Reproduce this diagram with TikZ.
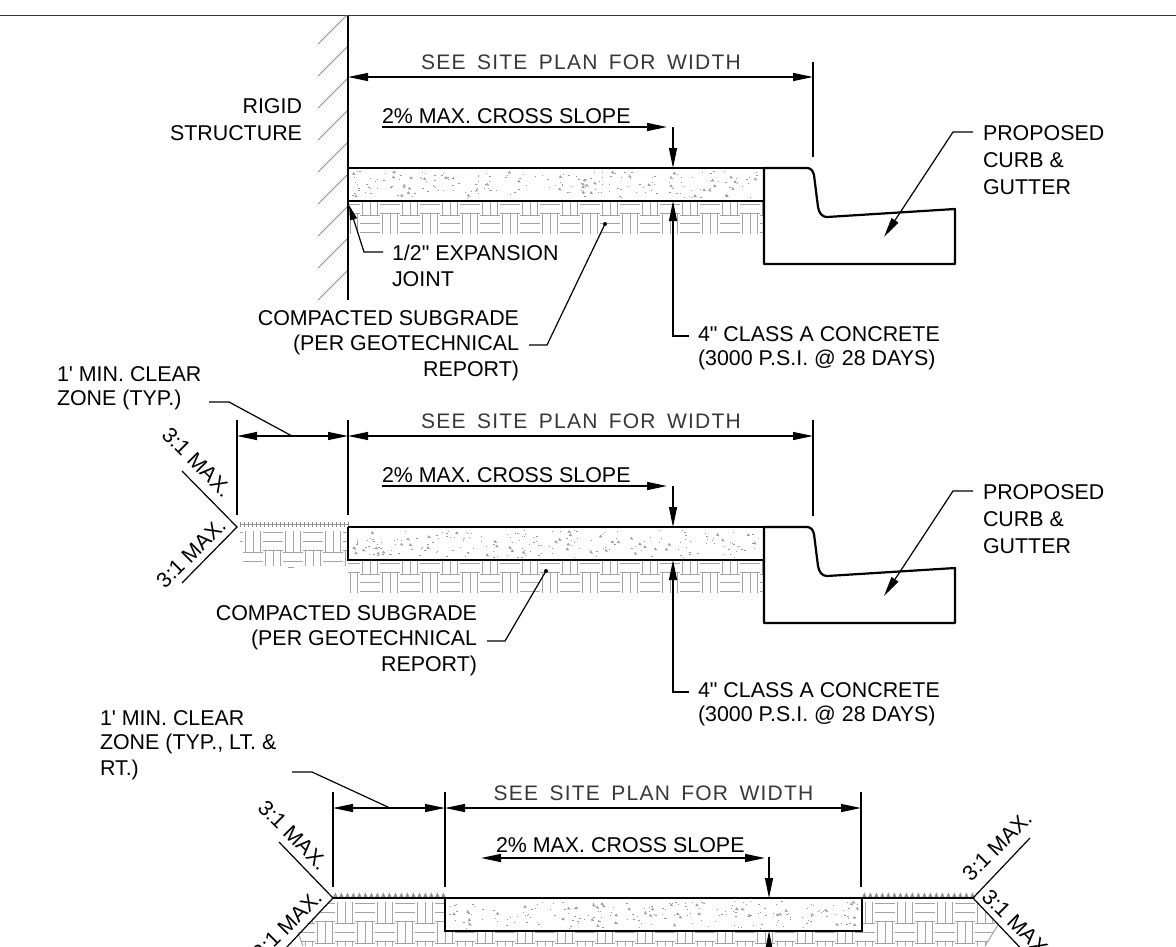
\documentclass[tikz,border=0pt]{standalone}
\usepackage{fontspec}
\setmainfont[Ligatures=TeXOff]{Liberation Sans}
\newfontfamily\cadfont[LetterSpace=6,WordSpace=1.6,Ligatures=TeXOff]{Liberation Sans}
\usetikzlibrary{arrows.meta}
\tikzset{
  x=1pt,y=-1pt,
  lbl/.style={inner sep=0pt,outer sep=0pt,font=\fontsize{21.4}{25}\selectfont,text=black},
  lblL/.style={lbl,anchor=west},
  lblR/.style={lbl,anchor=east},
  cad/.style={inner sep=0pt,font=\cadfont\fontsize{21}{25}\selectfont,text=black!78},
  slope/.style={lbl},
  thin line/.style={line width=1.2pt,black},
  heavy/.style={line width=2.8pt,black},
  medium/.style={line width=2.2pt,black},
  tip/.style={-{Triangle[length=20pt,width=8pt]}},
  rtip/.style={{Triangle[length=20pt,width=8pt]}-},
  bothtip/.style={{Triangle[length=20pt,width=8pt]}-{Triangle[length=20pt,width=8pt]}},
  dimline/.style={line width=1.2pt,black,bothtip},
  hatchline/.style={line width=1pt,black!36},
  wallhatch/.style={line width=0.7pt,black!50},
}
% basket-weave hatch: rows from y top, clipped by the caller
\newcommand{\weave}[6]{% xstart, columns, ytop, rows, phase, row height
  \foreach \r in {0,...,\numexpr#4-1\relax}{
    \pgfmathsetmacro{\yt}{#3+#6*\r}
    \pgfmathsetmacro{\ym}{\yt+0.47*#6}
    \pgfmathsetmacro{\yb}{\yt+0.93*#6}
    \pgfmathsetmacro{\ph}{#5+20*mod(\r,2)}
    \foreach \c in {-2,...,#2}{
      \pgfmathsetmacro{\xb}{#1+\ph+40*\c}
      \draw[hatchline] (\xb,\yt)--(\xb+20,\yt) (\xb,\ym)--(\xb+20,\ym) (\xb,\yb)--(\xb+20,\yb);
      \draw[hatchline] (\xb+22,\yt-1) --(\xb+22,\yb+1) (\xb+30,\yt-1)--(\xb+30,\yb+1) (\xb+37,\yt-1)--(\xb+37,\yb+1);
    }
  }
}
% concrete speckle
\newcommand{\speckle}[5]{% x0,x1,y0,y1,seed
  \pgfmathsetseed{#5}
  \pgfmathsetmacro{\nn}{int((#2-#1)*0.42)}
  \foreach \i in {1,...,\nn}{
    \pgfmathsetmacro{\px}{#1+3+rnd*(#2-#1-6)}
    \pgfmathsetmacro{\py}{#3+2+rnd*(#4-#3-4)}
    \fill[black!40] (\px,\py) rectangle ++(1.3,1);
  }
  \pgfmathsetmacro{\nm}{int((#2-#1)*0.1)}
  \foreach \i in {1,...,\nm}{
    \pgfmathsetmacro{\px}{#1+3+rnd*(#2-#1-6)}
    \pgfmathsetmacro{\py}{#3+4+rnd*(#4-#3-7)}
    \fill[black!38] (\px,\py)--++(3.5,0.5)--++(-2,-3)--cycle;
  }
}
\newcommand{\ticks}[3]{% x0,x1,y
  \draw[line width=0.8pt,black!40] (#1,#3-3)--(#2,#3-3);
  \foreach \x in {#1,\the\numexpr#1+4\relax,...,#2}{
    \draw[line width=0.8pt,black!45] (\x,#3-5)--(\x,#3);
  }
}
\newcommand{\tufts}[3]{% x0,x1,y
  \foreach \x in {#1,\the\numexpr#1+6\relax,...,#2}{
    \fill[black!42] (\x,#3-0.5)--++(2.4,-5)--++(2.4,5)--cycle;
  }
}
\begin{document}
\begin{tikzpicture}
\useasboundingbox (0,0) rectangle (1176,946);
\fill[white] (0,0) rectangle (1176,946);
\draw[line width=1pt,black!80] (0,15.5)--(1176,15.5);

%================ SECTION 1
\begin{scope}
 \clip (348,201) rectangle (764,233);
 \weave{348}{11}{196}{2}{-8}{19}
\end{scope}
\speckle{349}{763}{169}{200}{11}
\foreach \yy in {15,47,79,111,143,175,207,239,271}{
  \draw[wallhatch] (347,\yy)--++(-29,29);
}
\coordinate (w1) at (348,16); \coordinate (w2) at (348,300);
\draw[line width=2.4pt] (w1)--(w2);
\coordinate (a1) at (348,168); \coordinate (a2) at (764,168);
\coordinate (a3) at (764,201); \coordinate (a4) at (348,201);
\draw[heavy] (a1)--(a2);
\draw[medium] (a4)--(a3);
\draw[medium,line join=round] (a2)--(807,168) .. controls (811,168) and (813,171) .. (814,175)
   --(818,207) .. controls (819,213) and (822,217) .. (827,217)
   --(955,209)--(955,264)--(764,264)--cycle;
\coordinate (e1) at (813,62); \coordinate (e2) at (813,157);
\draw[thin line] (e1)--(e2);
\coordinate (d1) at (348,77); \coordinate (d2) at (813,77);
\draw[dimline] (d1)--(d2);
\node[cad] (see1) at (581,62) {SEE SITE PLAN FOR WIDTH};
\coordinate (s1) at (382,127); \coordinate (s2) at (667,127);
\draw[line width=1.6pt,tip] (s1)--(s2);
\node[lblL] (cs1) at (382,116) {2\% MAX. CROSS SLOPE};
\coordinate (v1) at (673,127); \coordinate (v2) at (673,168);
\draw[thin line,tip] (v1)--(v2);
\coordinate (c1) at (673,201); \coordinate (c2) at (673,336); \coordinate (c4) at (689,336);
\draw[thin line,rtip] (c1)--(c2)--(c4);
\node[lblL] (cc1) at (698,334) {4" CLASS A CONCRETE};
\node[lblL] (cc2) at (698,360) {(3000 P.S.I. @ 28 DAYS)};
\coordinate (p1) at (973,132); \coordinate (p2) at (953,132); \coordinate (p3) at (884,237);
\draw[thin line,tip] (p1)--(p2)--(p3);
\node[lblL] (pc1) at (983,133) {PROPOSED};
\node[lblL] (pc2) at (983,160) {CURB \&};
\node[lblL] (pc3) at (983,187) {GUTTER};
\node[lblR] (rs1) at (302,106) {RIGID};
\node[lblR] (rs2) at (302,133) {STRUCTURE};
\coordinate (x1) at (349,205); \coordinate (x2) at (364,252); \coordinate (x3) at (383,252);
\draw[thin line,{Triangle[length=15pt,width=7pt]}-] (x1)--(x2)--(x3);
\node[lblL] (xj1) at (392,253) {1/2" EXPANSION};
\node[lblL] (xj2) at (392,279) {JOINT};
\fill (605,224) circle (2pt) coordinate (k1);
\coordinate (k2) at (547,345); \coordinate (k3) at (529,345);
\draw[thin line] (k1)--(k2)--(k3);
\node[lblR] (sb1) at (519,318) {COMPACTED SUBGRADE};
\node[lblR] (sb2) at (519,345) {(PER GEOTECHNICAL};
\node[lblR] (sb3) at (519,371) {REPORT)};

%================ SECTION 2
\begin{scope}
 \clip (348,560) rectangle (764,592);
 \weave{348}{11}{555}{2}{-8}{19}
\end{scope}
\begin{scope}
 \clip (240,530) rectangle (348,549) (243,549) rectangle (348,566);
 \weave{240}{4}{532}{2}{23}{20}
\end{scope}
\draw[hatchline] (288,567)--(294,567);
\speckle{349}{763}{528}{559}{23}
\ticks{240}{348}{527}
\coordinate (a1b) at (348,527); \coordinate (a2b) at (764,527);
\coordinate (a3b) at (764,560); \coordinate (a4b) at (348,560);
\draw[heavy] (a1b)--(a2b);
\draw[medium] (a1b)--(a4b)--(a3b);
\draw[medium,line join=round] (a2b)--(807,527) .. controls (811,527) and (813,530) .. (814,534)
   --(818,566) .. controls (819,572) and (822,576) .. (827,576)
   --(955,568)--(955,623)--(764,623)--cycle;
\coordinate (e1b) at (813,420); \coordinate (e2b) at (813,516);
\draw[thin line] (e1b)--(e2b);
\coordinate (e3b) at (348,420); \coordinate (e4b) at (348,515);
\draw[thin line] (e3b)--(e4b);
\coordinate (e5b) at (237,420); \coordinate (e6b) at (237,515);
\draw[thin line] (e5b)--(e6b);
\coordinate (d1b) at (348,436); \coordinate (d2b) at (813,436);
\draw[dimline] (d1b)--(d2b);
\coordinate (d3b) at (237,436);
\draw[dimline] (d3b)--(d1b);
\node[cad] (see2) at (581,421) {SEE SITE PLAN FOR WIDTH};
\coordinate (s1b) at (382,486); \coordinate (s2b) at (667,486);
\draw[line width=1.6pt,tip] (s1b)--(s2b);
\node[lblL] (cs2) at (382,475) {2\% MAX. CROSS SLOPE};
\coordinate (v1b) at (673,486); \coordinate (v2b) at (673,527);
\draw[thin line,tip] (v1b)--(v2b);
\coordinate (c1b) at (673,560); \coordinate (c2b) at (673,692); \coordinate (c4b) at (689,692);
\draw[thin line,rtip] (c1b)--(c2b)--(c4b);
\node[lblL] (cc1b) at (698,690) {4" CLASS A CONCRETE};
\node[lblL] (cc2b) at (698,716) {(3000 P.S.I. @ 28 DAYS)};
\coordinate (p1b) at (973,491); \coordinate (p2b) at (953,491); \coordinate (p3b) at (884,596);
\draw[thin line,tip] (p1b)--(p2b)--(p3b);
\node[lblL] (pc1b) at (983,492) {PROPOSED};
\node[lblL] (pc2b) at (983,519) {CURB \&};
\node[lblL] (pc3b) at (983,546) {GUTTER};
\node[lblL] (mc1) at (57,374) {1' MIN. CLEAR};
\node[lblL] (mc2) at (57,400) {ZONE (TYP.)};
\coordinate (l1) at (209,402); \coordinate (l2) at (229,402); \coordinate (l3) at (292,436);
\draw[thin line] (l1)--(l2)--(l3);
\coordinate (ap) at (237,527); \coordinate (ap1) at (182,471); \coordinate (ap2) at (182,583);
\draw[thin line] (ap1)--(ap)--(ap2);
\node[slope,rotate=-45] (t1) at (197,462) {3:1 MAX.};
\node[slope,rotate=45] (t2) at (191,553) {3:1 MAX.};
\fill (546,571) circle (2pt) coordinate (k1b);
\coordinate (k2b) at (505,641); \coordinate (k3b) at (487,641);
\draw[thin line] (k1b)--(k2b)--(k3b);
\node[lblR] (sb1b) at (477,613) {COMPACTED SUBGRADE};
\node[lblR] (sb2b) at (477,640) {(PER GEOTECHNICAL};
\node[lblR] (sb3b) at (477,666) {REPORT)};

%================ SECTION 3
\begin{scope}
 \clip (333,898)--(298,933)--(303,946)--(985,946)--(998,925)--(973,898)--cycle;
 \weave{315}{18}{903}{3}{0}{20}
\end{scope}
\draw[hatchline] (298,933)--(303,946) (998,925)--(985,946);
\fill[white] (445,898) rectangle (862,931);
\speckle{446}{861}{899}{930}{37}
\tufts{333}{445}{898}
\tufts{862}{973}{898}
\coordinate (a1c) at (445,898); \coordinate (a2c) at (862,898);
\coordinate (a3c) at (862,931); \coordinate (a4c) at (445,931);
\draw[line width=1.2pt] (333,898)--(a1c) (a2c)--(973,898);
\draw[medium] (a1c)--(a2c)--(a3c)--(a4c)--cycle;
\coordinate (e1c) at (333,792); \coordinate (e2c) at (333,887);
\coordinate (e3c) at (445,792); \coordinate (e4c) at (445,887);
\coordinate (e5c) at (861,792); \coordinate (e6c) at (861,887);
\draw[thin line] (e1c)--(e2c) (e3c)--(e4c) (e5c)--(e6c);
\coordinate (d1c) at (333,808); \coordinate (d2c) at (445,808); \coordinate (d3c) at (861,808);
\draw[dimline] (d1c)--(d2c);
\draw[dimline] (d2c)--(d3c);
\node[cad] (see3) at (653.5,793) {SEE SITE PLAN FOR WIDTH};
\coordinate (s1c) at (481,858); \coordinate (s2c) at (765,858);
\draw[line width=1.6pt,bothtip] (s1c)--(s2c);
\node[lblL] (cs3) at (496,845) {2\% MAX. CROSS SLOPE};
\coordinate (v1c) at (769,857); \coordinate (v2c) at (769,898);
\draw[thin line,tip] (v1c)--(v2c);
\coordinate (v3c) at (769,931); \coordinate (v4c) at (769,970);
\draw[thin line,rtip] (v3c)--(v4c);
\node[lblL] (mc3) at (100,718) {1' MIN. CLEAR};
\node[lblL] (mc4) at (100,744) {ZONE (TYP., LT. \&};
\node[lblL] (mc5) at (100,770) {RT.)};
\coordinate (l1c) at (292,772); \coordinate (l2c) at (312,772); \coordinate (l3c) at (390,808);
\draw[thin line] (l1c)--(l2c)--(l3c);
\coordinate (ac) at (333,898); \coordinate (ac1) at (279,842); \coordinate (ac2) at (270,965);
\draw[thin line] (ac1)--(ac)--(ac2);
\node[slope,rotate=-45] (t3) at (293,835) {3:1 MAX.};
\node[slope,rotate=45] (t4) at (287,925) {3:1 MAX.};
\coordinate (ad) at (973,898); \coordinate (ad1) at (1030,838); \coordinate (ad2) at (1030,958);
\draw[thin line] (ad1)--(ad)--(ad2);
\node[slope,rotate=45] (t5) at (997,846) {3:1 MAX.};
\node[slope,rotate=-45] (t6) at (1017,924) {3:1 MAX.};
\end{tikzpicture}
\end{document}
